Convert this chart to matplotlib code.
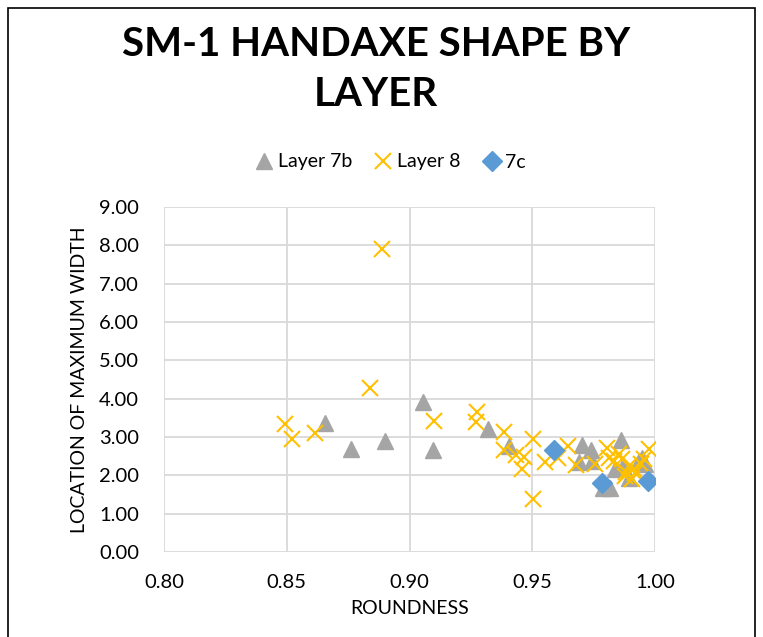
import matplotlib.pyplot as plt
from matplotlib.patches import Rectangle

plt.rcParams['font.family'] = ['Lato', 'DejaVu Sans']

# Layer 7b (triangles)
l7b_x = [0.8654, 0.8762, 0.8899, 0.9056, 0.9094, 0.9320, 0.9407, 0.9704, 0.9740,
         0.9690, 0.9745, 0.9863, 0.9790, 0.9815, 0.9838, 0.9893, 0.9934, 0.9961,
         0.9870, 0.9948]
l7b_y = [3.37, 2.68, 2.90, 3.91, 2.66, 3.22, 2.77, 2.80, 2.66,
         2.35, 2.37, 2.92, 1.66, 1.66, 2.16, 1.92, 2.37, 2.29,
         2.25, 2.46]

# Layer 8 (crosses)
l8_x = [0.8493, 0.8523, 0.8616, 0.8841, 0.8887, 0.9098, 0.9274, 0.9270, 0.9386,
        0.9386, 0.9434, 0.9468, 0.9459, 0.9503, 0.9503, 0.9551, 0.9606, 0.9647,
        0.9677, 0.9756, 0.9804, 0.9811, 0.9831, 0.9852, 0.9866, 0.9879, 0.9893,
        0.9907, 0.9914, 0.9941, 0.9955, 0.9975, 0.9880, 0.9920]
l8_y = [3.33, 2.94, 3.10, 4.27, 7.90, 3.42, 3.64, 3.38, 3.13,
        2.66, 2.52, 2.49, 2.16, 2.94, 1.38, 2.35, 2.44, 2.77,
        2.26, 2.29, 2.72, 2.46, 2.37, 2.55, 2.42, 1.98, 2.24,
        1.90, 2.16, 2.29, 2.42, 2.68, 2.10, 2.05]

# 7c (diamonds)
l7c_x = [0.9589, 0.9783, 0.9970]
l7c_y = [2.66, 1.79, 1.85]

x_ticks = [0.80, 0.85, 0.90, 0.95, 1.00]
y_ticks = [0, 1, 2, 3, 4, 5, 6, 7, 8, 9]

fig = plt.figure(figsize=(7.63, 6.37), dpi=100)
fig.patches.append(Rectangle((8 / 763, -0.05), 747 / 763, 1 - 8 / 637 + 0.05,
                             transform=fig.transFigure, fill=False,
                             edgecolor='black', linewidth=1.2))

ax = fig.add_axes([164 / 763, 1 - 552 / 637, (655 - 164) / 763, (552 - 207) / 637])

ax.plot(l7b_x, l7b_y, linestyle='none', marker='^', markersize=12,
        color='#A5A5A5', label='Layer 7b', zorder=3)
ax.plot(l8_x, l8_y, linestyle='none', marker='x', markersize=12,
        markeredgewidth=1.5, color='#FFC000', label='Layer 8', zorder=4)
ax.plot(l7c_x, l7c_y, linestyle='none', marker='D', markersize=10,
        color='#5B9BD5', label='7c', zorder=5)

ax.set_xlim(0.80, 1.00)
ax.set_ylim(0, 9)
ax.set_xticks(x_ticks)
ax.set_yticks(y_ticks)
ax.set_xticklabels([f'{v:.2f}' for v in x_ticks])
ax.set_yticklabels([f'{v:.2f}' for v in y_ticks])
ax.tick_params(axis='x', length=0, labelsize=14.5, pad=16)
ax.tick_params(axis='y', length=0, labelsize=14.5, pad=18)
ax.grid(True, color='#D9D9D9', linewidth=1.3)
ax.set_axisbelow(True)
for s in ax.spines.values():
    s.set_visible(False)

ax.set_xlabel('ROUNDNESS', fontsize=14, labelpad=6)
ax.set_ylabel('LOCATION OF MAXIMUM WIDTH', fontsize=14, labelpad=8)

fig.text(0.493, 1 - 45 / 637, 'SM-1 HANDAXE SHAPE BY', ha='center', va='center',
         fontsize=29, fontweight='bold')
fig.text(0.493, 1 - 95 / 637, 'LAYER', ha='center', va='center',
         fontsize=29, fontweight='bold')

fig.legend(loc='center', bbox_to_anchor=(0.51, 1 - 162 / 637), ncol=3,
           frameon=False, fontsize=14, handletextpad=0.1, columnspacing=1.0,
           handlelength=1.2)

fig.savefig('out.png', dpi=100)
